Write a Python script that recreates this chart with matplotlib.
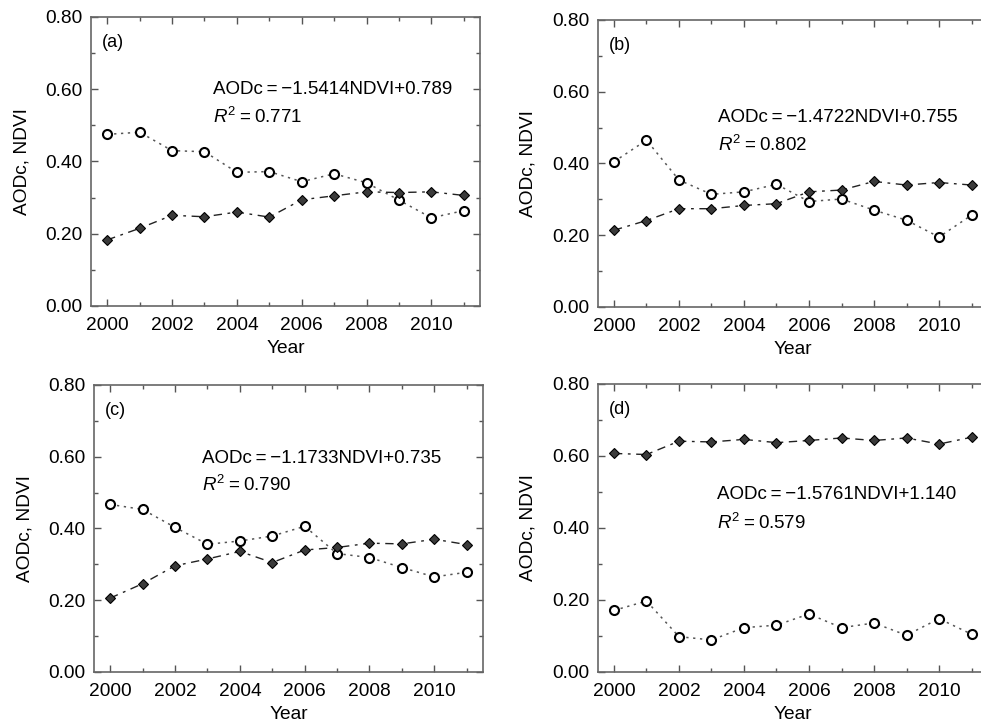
import matplotlib
matplotlib.use("Agg")
import matplotlib.pyplot as plt
from matplotlib.ticker import MultipleLocator, FormatStrFormatter

plt.rcParams['font.family'] = ['Liberation Sans', 'DejaVu Sans']
plt.rcParams['mathtext.fontset'] = 'custom'
plt.rcParams['mathtext.rm'] = 'Liberation Sans'
plt.rcParams['mathtext.it'] = 'Liberation Sans:italic'

years = list(range(2000, 2012))

# open circles (AODc) and filled diamonds (NDVI)
aod_a = [0.475, 0.481, 0.430, 0.427, 0.370, 0.372, 0.344, 0.366, 0.341, 0.293, 0.244, 0.264]
ndvi_a = [0.183, 0.215, 0.251, 0.247, 0.260, 0.246, 0.294, 0.305, 0.316, 0.314, 0.316, 0.306]

aod_b = [0.405, 0.465, 0.354, 0.314, 0.321, 0.342, 0.294, 0.301, 0.270, 0.242, 0.195, 0.256]
ndvi_b = [0.214, 0.241, 0.274, 0.274, 0.283, 0.288, 0.321, 0.326, 0.350, 0.340, 0.347, 0.340]

aod_c = [0.467, 0.453, 0.403, 0.356, 0.365, 0.379, 0.406, 0.330, 0.319, 0.291, 0.265, 0.278]
ndvi_c = [0.206, 0.246, 0.296, 0.315, 0.336, 0.305, 0.340, 0.347, 0.359, 0.357, 0.370, 0.355]

aod_d = [0.171, 0.197, 0.098, 0.089, 0.123, 0.130, 0.161, 0.123, 0.136, 0.102, 0.148, 0.105]
ndvi_d = [0.607, 0.604, 0.641, 0.639, 0.646, 0.637, 0.643, 0.650, 0.643, 0.650, 0.633, 0.652]

labels = ['(a)', '(b)', '(c)', '(d)']
equations = ['AODc\u2009=\u2009\u22121.5414NDVI+0.789', 'AODc\u2009=\u2009\u22121.4722NDVI+0.755',
             'AODc\u2009=\u2009\u22121.1733NDVI+0.735', 'AODc\u2009=\u2009\u22121.5761NDVI+1.140']
r2 = ['0.771', '0.802', '0.790', '0.579']

fig = plt.figure(figsize=(9.81, 7.22), dpi=100)

# axes boxes [left, bottom, width, height]
boxes = [[0.0928, 0.5762, 0.3965, 0.4003],
         [0.6093, 0.5748, 0.3976, 0.3975],
         [0.0958, 0.0693, 0.3965, 0.3975],
         [0.6093, 0.0693, 0.3976, 0.3989]]
# equation anchor (x in years, y in data units)
eq_pos = [(2003.27, 0.598, 0.523), (2003.2, 0.527, 0.451),
          (2002.83, 0.596, 0.521), (2003.17, 0.492, 0.414)]

aods = [aod_a, aod_b, aod_c, aod_d]
ndvis = [ndvi_a, ndvi_b, ndvi_c, ndvi_d]

for i in range(4):
    ax = fig.add_axes(boxes[i])
    ax.plot(years, aods[i], linestyle=(0, (1.5, 3)), color='#555555', lw=1.1,
            marker='o', ms=6.5, mfc='white', mec='black', mew=1.5, zorder=3)
    ax.plot(years, ndvis[i], linestyle=(0, (6, 4, 2, 4)), color='#222222', lw=1.0,
            marker='D', ms=5.5, mfc='#3a3a3a', mec='black', mew=0.8, zorder=4)

    ax.set_xlim(1999.5, 2011.5)
    ax.set_ylim(0, 0.8)
    ax.xaxis.set_major_locator(MultipleLocator(2))
    ax.xaxis.set_minor_locator(MultipleLocator(1))
    ax.yaxis.set_major_locator(MultipleLocator(0.2))
    ax.yaxis.set_minor_locator(MultipleLocator(0.1))
    ax.yaxis.set_major_formatter(FormatStrFormatter('%.2f'))
    ax.tick_params(which='both', direction='in', top=True, right=True,
                   color='#555555', width=1.0, labelsize=13.8)
    ax.tick_params(axis='x', which='major', pad=8)
    ax.tick_params(axis='y', which='major', pad=6)
    ax.tick_params(which='major', length=5)
    ax.tick_params(which='minor', length=3)
    for s in ax.spines.values():
        s.set_color('#666666')
        s.set_linewidth(1.2)

    ax.set_xlabel('Year', fontsize=13.8, labelpad=4)
    ax.set_ylabel('AODc, NDVI', fontsize=13.8, labelpad=11)

    ax.text(0.028, 0.91, labels[i], transform=ax.transAxes, fontsize=13,
            va='center', ha='left')
    ex, ey1, ey2 = eq_pos[i]
    ax.text(ex, ey1, equations[i], fontsize=13.5, va='center', ha='left')
    ax.text(ex, ey2, '$\\mathit{R}^{2}$\u2009=\u2009' + r2[i], fontsize=13.5,
            va='center', ha='left')

fig.savefig('out.png', dpi=100)
